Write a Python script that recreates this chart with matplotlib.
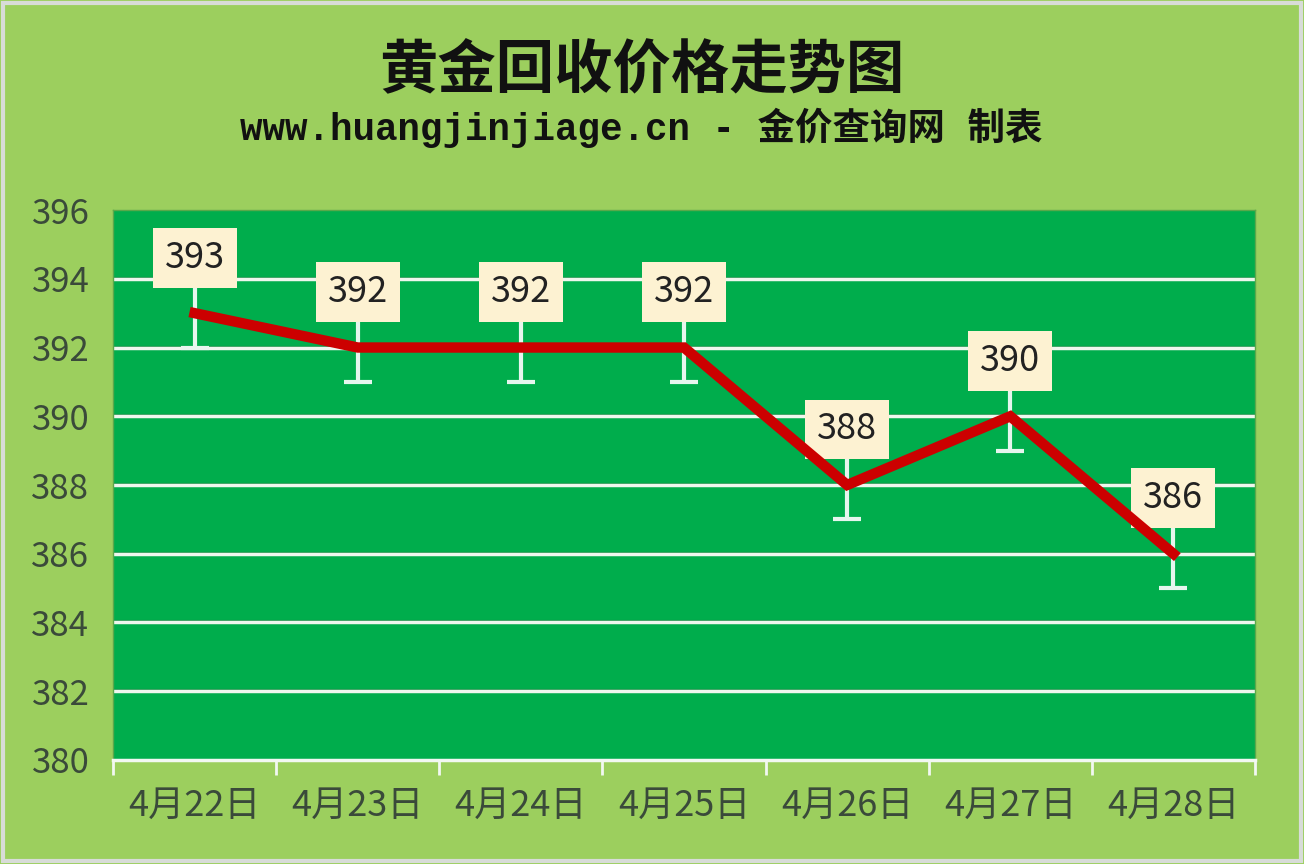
import matplotlib.pyplot as plt
import numpy as np

# data
dates = ["4月22日", "4月23日", "4月24日", "4月25日", "4月26日", "4月27日", "4月28日"]
prices = [393, 392, 392, 392, 388, 390, 386]
err = [1, 1, 1, 1, 1, 1, 1]
yticks = [380, 382, 384, 386, 388, 390, 392, 394, 396]

title = "黄金回收价格走势图"
subtitle = "www.huangjinjiage.cn - 金价查询网 制表"

plt.rcParams['font.family'] = ['Noto Sans CJK SC', 'DejaVu Sans']

fig = plt.figure(figsize=(13.04, 8.64), dpi=100)
fig.patch.set_facecolor('#9ccf5e')
fig.patches.append(plt.Rectangle((0.002, 0.003), 0.996, 0.994, transform=fig.transFigure,
                                 fill=False, edgecolor='#d8dcd8', linewidth=3))

ax = fig.add_axes([0.0867, 0.1204, 0.8757, 0.6365])
ax.set_facecolor('#00ad4c')

x = np.arange(len(dates))

ax.errorbar(x, prices, yerr=err, fmt='none', ecolor='#e6f6ee', elinewidth=3,
            capsize=10, capthick=3, zorder=3)
ax.plot(x, prices, color='#cc0000', linewidth=7.5, solid_joinstyle='miter', zorder=5)

for xi, p in zip(x, prices):
    ax.annotate(str(p), (xi, p), xytext=(0, 40), textcoords='offset points',
                ha='center', va='center', fontsize=26, color='#222222',
                bbox=dict(boxstyle='square,pad=0.33', fc='#fdf2d2', ec='none'),
                zorder=4)

ax.set_xlim(-0.5, len(dates) - 0.5)
ax.set_ylim(380, 396)
ax.set_yticks(yticks)
ax.set_yticklabels([str(v) for v in yticks])
for v in yticks[1:-1]:
    ax.axhline(v, color='#1e7a3a', linewidth=3, zorder=1, alpha=0.6)
    ax.axhline(v, color='#eef7ee', linewidth=2.5, zorder=2)

ax.set_xticks(x)
ax.set_xticklabels(dates)
ax.set_xticks(np.arange(-0.5, len(dates), 1), minor=True)
ax.tick_params(axis='x', which='major', length=0, pad=20, labelsize=26, labelcolor='#3a4a3a')
ax.tick_params(axis='x', which='minor', length=11, width=2, color='#f2f8f2', direction='out')
ax.tick_params(axis='y', length=0, pad=17, labelsize=25, labelcolor='#3a4a3a')

for s in ['top', 'left', 'right']:
    ax.spines[s].set_color('#5aa84a')
    ax.spines[s].set_linewidth(1)
ax.spines['bottom'].set_color('#f2f8f2')
ax.spines['bottom'].set_linewidth(2.5)

fig.text(0.492, 0.918, title, ha='center', va='center', fontsize=42, fontweight='bold', color='#111111')
fig.text(0.492, 0.852, subtitle, ha='center', va='center', fontsize=27, fontweight='bold',
         color='#111111', family=['Liberation Mono', 'Noto Sans CJK SC'])

plt.savefig("out.png", dpi=100, facecolor=fig.get_facecolor())
